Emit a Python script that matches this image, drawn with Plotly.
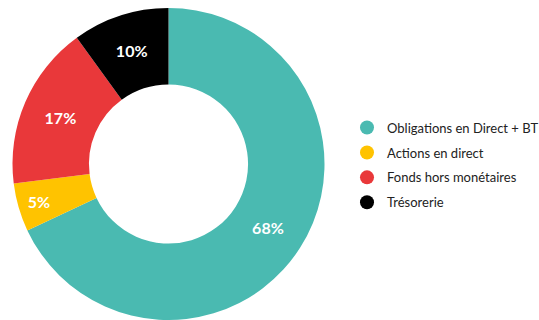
import plotly.graph_objects as go

labels = ["Obligations en Direct + BT", "Actions en direct", "Fonds hors monétaires", "Trésorerie"]
values = [68, 5, 17, 10]
colors = ["#4ABAB1", "#FFC300", "#E9383A", "#000000"]

fig = go.Figure()
fig.add_trace(go.Pie(
    labels=labels, values=values, sort=False, direction="clockwise", rotation=0,
    hole=0.51, marker=dict(colors=colors, line=dict(width=0)),
    texttemplate="%{value}%", textposition="inside", insidetextorientation="horizontal",
    textfont=dict(family="Lato", size=16, color="white", weight="bold"),
    showlegend=False, hoverinfo="label+value",
    domain=dict(x=[11.5/539, 325.5/539], y=[0, 312/320]),
))
for i, (lab, col) in enumerate(zip(labels, colors)):
    fig.add_trace(go.Scatter(x=[None], y=[None], mode="markers", name=lab,
                             legendgroup=f"g{i}",
                             marker=dict(symbol="circle", size=14, color=col)))

fig.update_layout(
    width=539, height=320, margin=dict(l=0, r=0, t=0, b=0, autoexpand=False),
    paper_bgcolor="white", plot_bgcolor="white",
    xaxis=dict(visible=False), yaxis=dict(visible=False),
    legend=dict(x=347/539, y=0.484, xanchor="left", yanchor="middle",
                font=dict(family="Lato", size=13, color="#222222"),
                traceorder="grouped", tracegroupgap=5,
                itemsizing="trace", bgcolor="rgba(0,0,0,0)"),
)
fig.write_html("out.html")
